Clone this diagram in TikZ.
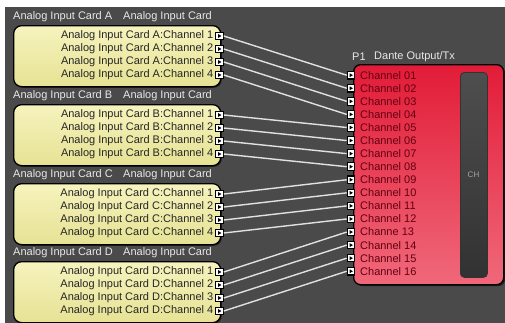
\documentclass[tikz,border=0pt]{standalone}
\usepackage{fontspec}
\setmainfont{Liberation Sans}
\usetikzlibrary{shadows}
\definecolor{bgc}{RGB}{74,74,74}
\definecolor{cardtop}{RGB}{246,243,190}
\definecolor{cardbot}{RGB}{230,226,148}
\definecolor{dantetop}{RGB}{226,28,56}
\definecolor{dantebot}{RGB}{240,104,122}
\definecolor{dtext}{RGB}{100,0,16}
\definecolor{ttext}{RGB}{232,232,232}
\definecolor{wire}{RGB}{225,225,225}
\definecolor{slidertop}{RGB}{78,78,78}
\definecolor{sliderbot}{RGB}{50,50,50}
\begin{document}
\begin{tikzpicture}[x=1pt,y=-1pt,
  every node/.style={font=\fontsize{11}{13}\selectfont},
  cardbox/.style={draw=black, line width=1.3pt, rounded corners=8pt,
    top color=cardtop, bottom color=cardbot, minimum width=207pt, minimum height=61pt,
    inner sep=0pt, anchor=north west,
    drop shadow={shadow xshift=1.2pt, shadow yshift=-1.2pt, fill=black, opacity=0.5}},
  dantebox/.style={draw=black, line width=1.3pt, rounded corners=7pt,
    top color=dantetop, bottom color=dantebot, minimum width=150pt, minimum height=220pt,
    inner sep=0pt, anchor=north west,
    drop shadow={shadow xshift=1.5pt, shadow yshift=-1.5pt, fill=black, opacity=0.6}},
  slider/.style={draw=black!80, line width=0.8pt, rounded corners=4pt,
    top color=slidertop, bottom color=sliderbot, minimum width=27pt, minimum height=205pt,
    inner sep=0pt, anchor=north west},
  titletext/.style={text=ttext, inner sep=0pt, anchor=west},
  chtext/.style={text=black!85, inner sep=0pt, anchor=east},
  outtext/.style={text=dtext, inner sep=0pt, anchor=west},
  port/.style={draw=black, line width=1.1pt, fill=white, minimum size=7.5pt, inner sep=0pt,
    path picture={\fill[black] ([xshift=-1.3pt,yshift=1.9pt]path picture bounding box.center)
      -- ++(3.2pt,-1.9pt) -- ++(-3.2pt,-1.9pt) -- cycle;}},
  wireline/.style={draw=wire, line width=1.4pt}
]
\useasboundingbox (0,0) rectangle (505,322);
\clip (0,0) rectangle (505,322);
\fill[white] (0,0) rectangle (505,322);
\fill[bgc] (5,7) rectangle (506,323);

% Dante output box
\node[dantebox] (dante) at (353,64) {};
\node[slider] (slide) at (460,72) {};
\node[text=black!35, font=\fontsize{8}{10}\selectfont, inner sep=0pt] (chlbl) at (473.5,175) {CH};
\node[titletext] (p1) at (352,57) {P1};
\node[titletext] (dtitle) at (374,57) {Dante Output/Tx};
\foreach \i/\lab in {1/Channel 01,2/Channel 02,3/Channel 03,4/Channel 04,5/Channel 05,6/Channel 06,7/Channel 07,8/Channel 08,9/Channel 09,10/Channel 10,11/Channel 11,12/Channel 12,13/Channe 13,14/Channel 14,15/Channel 15,16/Channel 16}{
  \pgfmathsetmacro{\yy}{75.2+13.07*(\i-1)}
  \node[port] (o\i) at (351,\yy) {};
  \node[outtext] (ot\i) at (360,\yy) {\lab};
}

% Input cards
\foreach \L/\top [count=\k] in {A/25,B/104,C/183,D/261}{
  \node[cardbox] (card\L) at (13,\top) {};
  \node[titletext] (t\L) at (13,\top-8) {Analog Input Card \L};
  \node[titletext] (s\L) at (123,\top-8) {Analog Input Card};
  \foreach \j in {1,...,4}{
    \pgfmathsetmacro{\yy}{\top+11+13*(\j-1)}
    \node[chtext] (c\L\j) at (213.5,\yy) {Analog Input Card \L:Channel \j};
    \node[port] (p\L\j) at (219.5,\yy) {};
  }
}

% Wires
\foreach \L [count=\k] in {A,B,C,D}{
  \foreach \j in {1,...,4}{
    \pgfmathtruncatemacro{\n}{4*(\k-1)+\j}
    \draw[wireline] (p\L\j.east) -- (o\n.west);
  }
}
\end{tikzpicture}
\end{document}
